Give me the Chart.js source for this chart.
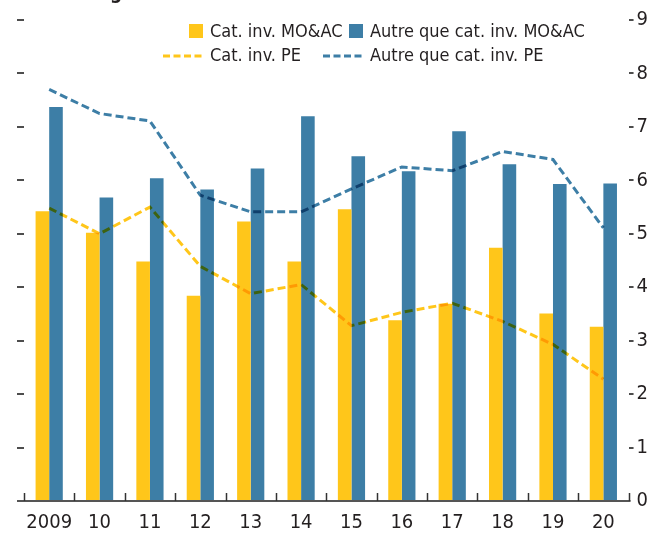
<!DOCTYPE html>
<html>
<head>
<meta charset="utf-8">
<script src="https://cdn.jsdelivr.net/npm/chart.js@4/dist/chart.umd.min.js"></script>
<style>
  html, body { margin: 0; padding: 0; background: #ffffff; }
  #wrap { width: 653px; height: 533px; }
</style>
</head>
<body>
<div id="wrap"><canvas id="chart" width="653" height="533"></canvas></div>
<script>
/* --------------- Data --------------------- */
const years = ["2009", "10", "11", "12", "13", "14", "15", "16", "17", "18", "19", "20"];
const invMoac = [5.42, 5.02, 4.48, 3.84, 5.23, 4.48, 5.46, 3.38, 3.69, 4.74, 3.51, 3.26];
const nonInvMoac = [7.37, 5.68, 6.04, 5.83, 6.22, 7.20, 6.45, 6.17, 6.92, 6.30, 5.93, 5.94];
const invPe = [5.48, 5.00, 5.50, 4.39, 3.88, 4.05, 3.28, 3.53, 3.70, 3.36, 2.93, 2.28];
const nonInvPe = [7.70, 7.25, 7.11, 5.72, 5.41, 5.41, 5.84, 6.25, 6.18, 6.54, 6.39, 5.11];
const axisMin = 0;
const axisMax = 9;

/* --------------- Colours & Fonts --------------------- */
const YELLOW = "#ffc61a";
const BLUE = "#3d7ea6";
const INK = "#231f20";
const TICK = "#4d4d4d";
const FONT = "'DejaVu Sans Condensed', 'Liberation Sans Narrow', Arial, sans-serif";

/* --------------- Dashed lines blend like the print (multiply) --------------------- */
const multiplyLines = {
  id: "multiplyLines",
  beforeDatasetDraw(chart, args) {
    if (args.meta.type === "line") {
      chart.ctx.save();
      chart.ctx.globalCompositeOperation = "multiply";
    }
  },
  afterDatasetDraw(chart, args) {
    if (args.meta.type === "line") chart.ctx.restore();
  },
};

/* --------------- Axis line, category ticks, legend, cut title --------------------- */
const decorations = {
  id: "decorations",
  afterDraw(chart) {
    const ctx = chart.ctx;
    const area = chart.chartArea;
    const x = chart.scales.x;
    const n = years.length;
    const step = (x.right - x.left) / n;

    ctx.save();
    // base line
    ctx.strokeStyle = "#555555";
    ctx.lineWidth = 2;
    ctx.beginPath();
    ctx.moveTo(area.left - 7, area.bottom);
    ctx.lineTo(area.right + 2, area.bottom);
    ctx.stroke();
    // upward category ticks
    ctx.strokeStyle = "#333333";
    ctx.lineWidth = 1.5;
    for (let i = 0; i <= n; i++) {
      const px = Math.round(x.left + i * step) + 0.5;
      ctx.beginPath();
      ctx.moveTo(px, area.bottom);
      ctx.lineTo(px, area.bottom - 8);
      ctx.stroke();
    }

    // legend
    ctx.font = "18px " + FONT;
    ctx.textBaseline = "middle";
    ctx.textAlign = "left";
    const ds = chart.data.datasets;
    const slots = [
      { i: 0, end: 203, y: 31 },
      { i: 1, end: 363, y: 31 },
      { i: 2, end: 203, y: 55 },
      { i: 3, end: 363, y: 55 },
    ];
    slots.forEach((s) => {
      const d = ds[s.i];
      if (d.type === "line") {
        ctx.strokeStyle = d.borderColor;
        ctx.lineWidth = 3;
        ctx.setLineDash([7, 3.5]);
        ctx.beginPath();
        ctx.moveTo(s.end - 40, s.y + 1);
        ctx.lineTo(s.end, s.y + 1);
        ctx.stroke();
        ctx.setLineDash([]);
      } else {
        ctx.fillStyle = d.backgroundColor;
        ctx.fillRect(s.end - 14, s.y - 7, 14, 14);
      }
      ctx.fillStyle = INK;
      ctx.fillText(d.label, s.end + 7, s.y + 1);
    });

    // title line cut off by the top edge
    ctx.font = "bold 19px " + FONT;
    ctx.textBaseline = "alphabetic";
    const head = ctx.measureText("Pourcenta").width;
    ctx.fillStyle = INK;
    ctx.fillText("Pourcentage", 110 - head, -1);
    ctx.restore();
  },
};

/* --------------- Chart --------------------- */
const tickColour = (c) => (c.tick && c.tick.value === axisMin ? "rgba(0,0,0,0)" : TICK);

new Chart(document.getElementById("chart"), {
  type: "bar",
  plugins: [multiplyLines, decorations],
  data: {
    labels: years,
    datasets: [
      {
        label: "Cat. inv. MO&AC",
        data: invMoac,
        backgroundColor: YELLOW,
        yAxisID: "y",
        order: 2,
        barPercentage: 1,
        categoryPercentage: 0.54,
      },
      {
        label: "Autre que cat. inv. MO&AC",
        data: nonInvMoac,
        backgroundColor: BLUE,
        yAxisID: "y",
        order: 2,
        barPercentage: 1,
        categoryPercentage: 0.54,
      },
      {
        type: "line",
        label: "Cat. inv. PE",
        data: invPe,
        borderColor: YELLOW,
        borderWidth: 3,
        borderDash: [8, 4],
        pointRadius: 0,
        tension: 0,
        yAxisID: "y",
        order: 1,
      },
      {
        type: "line",
        label: "Autre que cat. inv. PE",
        data: nonInvPe,
        borderColor: BLUE,
        borderWidth: 3,
        borderDash: [8, 4],
        pointRadius: 0,
        tension: 0,
        yAxisID: "y",
        order: 1,
      },
    ],
  },
  options: {
    responsive: false,
    animation: false,
    devicePixelRatio: 1,
    layout: { padding: { left: 17, right: 2, top: 20, bottom: -12 } },
    plugins: {
      legend: { display: false },
      tooltip: { enabled: false },
    },
    scales: {
      x: {
        offset: true,
        border: { display: false },
        grid: { display: false, drawTicks: false },
        ticks: {
          color: INK,
          padding: 12,
          maxRotation: 0,
          autoSkip: false,
          font: { family: FONT, size: 20, lineHeight: 1 },
        },
      },
      y: {
        position: "right",
        min: axisMin,
        max: axisMax,
        border: { display: false },
        grid: {
          drawOnChartArea: false,
          tickLength: 5,
          lineWidth: 2,
          color: tickColour,
        },
        ticks: {
          stepSize: 1,
          color: INK,
          padding: 3,
          font: { family: FONT, size: 20 },
        },
      },
      yl: {
        position: "left",
        min: axisMin,
        max: axisMax,
        border: { display: false },
        grid: {
          drawOnChartArea: false,
          tickLength: 7,
          lineWidth: 2,
          color: tickColour,
        },
        ticks: { stepSize: 1, display: false },
      },
    },
  },
});
</script>
</body>
</html>
